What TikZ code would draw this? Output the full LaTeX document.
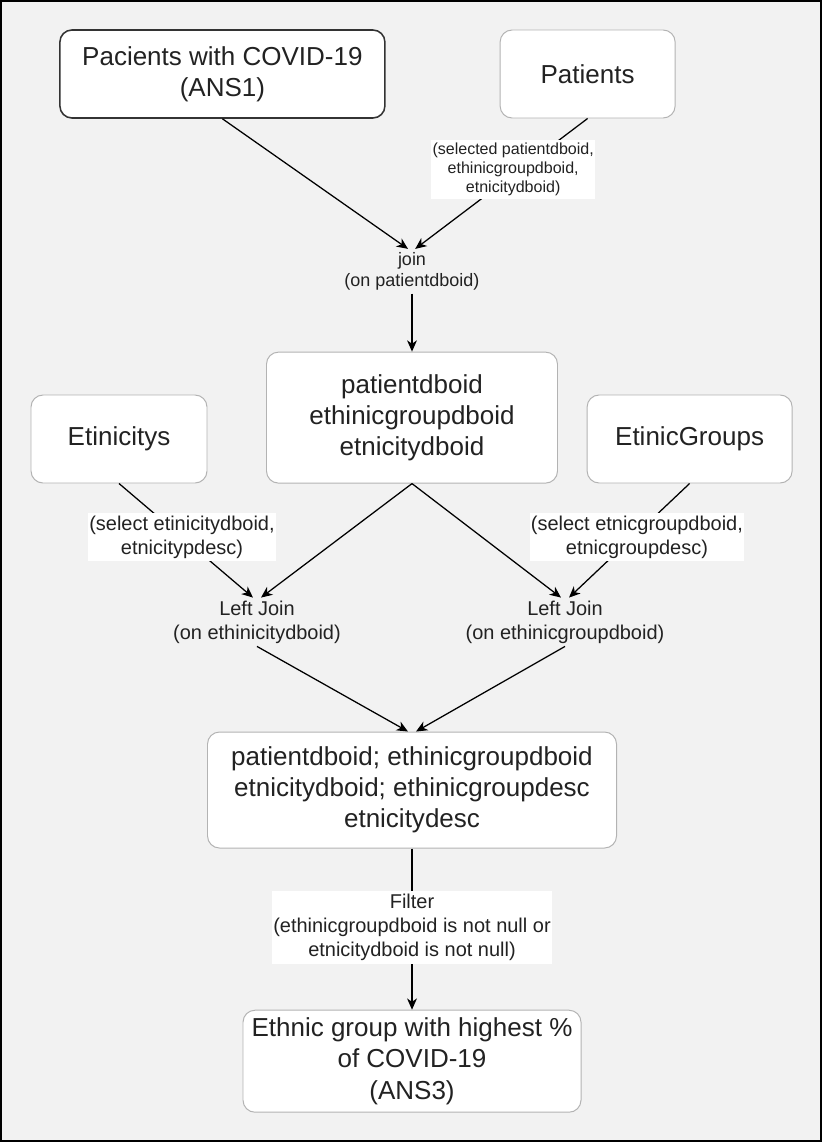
\documentclass[tikz,border=0pt]{standalone}
\usepackage{fontspec}
\setmainfont{Liberation Sans}
\usetikzlibrary{arrows.meta}
\newcommand{\boxfont}{\fontsize{18.5}{22.2}\selectfont}
\newcommand{\opfont}{\fontsize{14.2}{17.1}\selectfont}
\definecolor{dbg}{HTML}{F2F2F2}
\definecolor{dink}{HTML}{222222}
\definecolor{dedge}{HTML}{B3B3B3}
\definecolor{ddark}{HTML}{333333}
\tikzset{
  dbox/.style={
    rounded corners=0.3cm, draw=#1, line width=0.7pt, fill=white,
    text=dink, align=center, inner sep=2pt, font=\boxfont},
  dop/.style={text=dink, align=center, inner sep=2pt, font=\opfont},
  dtag/.style={fill=white, text=dink, align=center, inner xsep=1pt,
    inner ysep=2pt, font=\opfont},
  dflow/.style={-{Stealth[length=8pt,width=7pt,inset=2.4pt]}, draw=black,
    line width=0.9pt},
}
\begin{document}
\begin{tikzpicture}[x=1cm,y=1cm]

% frame
\useasboundingbox (0,0) rectangle (20.55,-28.55);
\draw[fill=dbg,line width=1.4pt] (0.025,-0.025) rectangle (20.525,-28.525);

% sources
\node[dbox=ddark,line width=1.1pt,minimum width=8.125cm,minimum height=2.2cm] (ans1)
  at (5.56,-1.85) {Pacients with COVID-19\\(ANS1)};
\node[dbox=dedge,minimum width=4.375cm,minimum height=2.2cm] (pat)
  at (14.69,-1.85) {Patients};

% join
\node[dop,font=\fontsize{12.8}{15.4}\selectfont] (join) at (10.3,-6.78)
  {join\\(on patientdboid)};
\draw[dflow] (ans1.south) -- ([xshift=-0.1cm]join.north);
\draw[dflow] (pat.south) -- node[dtag,pos=0.39,xshift=-0.18cm,font=\fontsize{11.4}{13.5}\selectfont] (selP)
  {(selected patientdboid,\\ethinicgroupdboid,\\etnicitydboid)} ([xshift=0.08cm]join.north);

% joined keys and lookup tables
\node[dbox=dedge,minimum width=7.275cm,minimum height=3.275cm] (mid)
  at (10.3,-10.44) {patientdboid\\ethinicgroupdboid\\etnicitydboid};
\node[dbox=dedge,minimum width=4.4cm,minimum height=2.2cm] (eth)
  at (2.975,-10.975) {Etinicitys};
\node[dbox=dedge,minimum width=5.125cm,minimum height=2.2cm] (grp)
  at (17.24,-10.975) {EtinicGroups};
\draw[dflow] (join.south) -- (mid.north);

% left joins
\node[dop] (ljA) at (6.425,-15.55) {Left Join\\(on ethinicitydboid)};
\node[dop] (ljB) at (14.125,-15.55) {Left Join\\(on ethinicgroupdboid)};
\draw[dflow] (eth.south) -- node[dtag,pos=0.47] (selE)
  {(select etinicitydboid,\\etnicitypdesc)} ([xshift=-0.1cm]ljA.north);
\draw[dflow] (mid.south) -- ([xshift=0.1cm]ljA.north);
\draw[dflow] (mid.south) -- ([xshift=-0.1cm]ljB.north);
\draw[dflow] (grp.south) -- node[dtag,pos=0.47,xshift=0.1cm] (selG)
  {(select etnicgroupdboid,\\etnicgroupdesc)} ([xshift=0.1cm]ljB.north);

% result
\node[dbox=dedge,minimum width=10.225cm,minimum height=2.9cm] (res)
  at (10.3,-19.75) {patientdboid; ethinicgroupdboid\\etnicitydboid; ethinicgroupdesc\\etnicitydesc};
\draw[dflow] (ljA.south) -- ([xshift=-0.1cm]res.north);
\draw[dflow] (ljB.south) -- ([xshift=0.1cm]res.north);

% filter
\node[dbox=dedge,minimum width=8.45cm,minimum height=2.55cm] (ans3)
  at (10.3,-26.53) {Ethnic group with highest \%\\of COVID-19\\(ANS3)};
\draw[dflow] (res.south) -- node[dtag,pos=0.49] (filt)
  {Filter\\(ethinicgroupdboid is not null or\\etnicitydboid is not null)} (ans3.north);

\end{tikzpicture}
\end{document}
